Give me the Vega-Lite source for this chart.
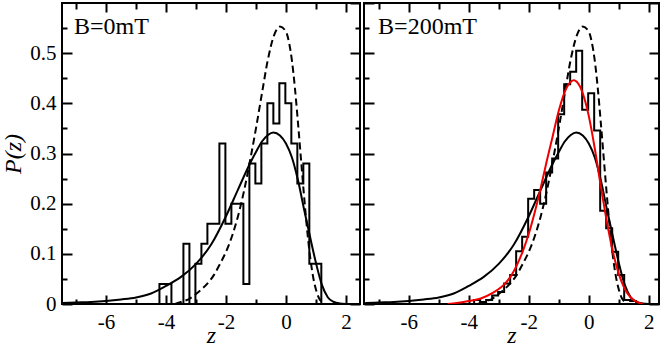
{
  "$schema": "https://vega.github.io/schema/vega-lite/v6.json",
  "padding": {"left": 0, "top": 1, "right": 0, "bottom": 0},
  "background": "white",
  "spacing": 0,
  "datasets": {
    "hist0": [
      {"z": -4.22, "p": 0}, {"z": -4.22, "p": 0.04}, {"z": -4.02, "p": 0.04}, {"z": -3.82, "p": 0}, {"z": -3.62, "p": 0},
      {"z": -3.42, "p": 0.12}, {"z": -3.22, "p": 0}, {"z": -3.02, "p": 0.08}, {"z": -2.82, "p": 0.12}, {"z": -2.62, "p": 0.16},
      {"z": -2.42, "p": 0.16}, {"z": -2.22, "p": 0.32}, {"z": -2.02, "p": 0.16}, {"z": -1.82, "p": 0.2}, {"z": -1.62, "p": 0.2},
      {"z": -1.42, "p": 0.04}, {"z": -1.22, "p": 0.28}, {"z": -1.02, "p": 0.24}, {"z": -0.82, "p": 0.32}, {"z": -0.62, "p": 0.4},
      {"z": -0.42, "p": 0.36}, {"z": -0.22, "p": 0.44}, {"z": -0.02, "p": 0.4}, {"z": 0.18, "p": 0.32}, {"z": 0.38, "p": 0.24},
      {"z": 0.58, "p": 0.28}, {"z": 0.78, "p": 0.08}, {"z": 0.98, "p": 0.08}, {"z": 1.18, "p": 0}
    ],
    "hist1": [
      {"z": -3.82, "p": 0}, {"z": -3.82, "p": 0.008}, {"z": -3.62, "p": 0.004}, {"z": -3.42, "p": 0.008}, {"z": -3.22, "p": 0.017},
      {"z": -3.02, "p": 0.024}, {"z": -2.82, "p": 0.041}, {"z": -2.62, "p": 0.058}, {"z": -2.42, "p": 0.105}, {"z": -2.22, "p": 0.134},
      {"z": -2.02, "p": 0.21}, {"z": -1.82, "p": 0.227}, {"z": -1.62, "p": 0.2}, {"z": -1.42, "p": 0.262}, {"z": -1.22, "p": 0.29},
      {"z": -1.02, "p": 0.378}, {"z": -0.82, "p": 0.438}, {"z": -0.62, "p": 0.463}, {"z": -0.42, "p": 0.505}, {"z": -0.22, "p": 0.387},
      {"z": -0.02, "p": 0.42}, {"z": 0.18, "p": 0.346}, {"z": 0.38, "p": 0.186}, {"z": 0.58, "p": 0.151}, {"z": 0.78, "p": 0.104},
      {"z": 0.98, "p": 0.058}, {"z": 1.18, "p": 0.008}, {"z": 1.38, "p": 0.006}, {"z": 1.58, "p": 0}
    ],
    "solid": [
      {"z": -7.45, "p": 0.002}, {"z": -7, "p": 0.003}, {"z": -6.5, "p": 0.004}, {"z": -6, "p": 0.006}, {"z": -5.5, "p": 0.009},
      {"z": -5, "p": 0.013}, {"z": -4.5, "p": 0.021}, {"z": -4, "p": 0.036}, {"z": -3.5, "p": 0.054}, {"z": -3, "p": 0.08},
      {"z": -2.5, "p": 0.118}, {"z": -2, "p": 0.175}, {"z": -1.6, "p": 0.228}, {"z": -1.2, "p": 0.28}, {"z": -1, "p": 0.303},
      {"z": -0.8, "p": 0.324}, {"z": -0.6, "p": 0.337}, {"z": -0.42, "p": 0.342}, {"z": -0.2, "p": 0.336}, {"z": 0, "p": 0.32},
      {"z": 0.2, "p": 0.292}, {"z": 0.4, "p": 0.247}, {"z": 0.6, "p": 0.19}, {"z": 0.8, "p": 0.135}, {"z": 1.0, "p": 0.082},
      {"z": 1.2, "p": 0.038}, {"z": 1.4, "p": 0.013}, {"z": 1.6, "p": 0.004}, {"z": 1.8, "p": 0.001}, {"z": 2.0, "p": 0}
    ],
    "dashed": [
      {"z": -3.7, "p": 0}, {"z": -3.5, "p": 0.004}, {"z": -3.2, "p": 0.011}, {"z": -3.0, "p": 0.02}, {"z": -2.8, "p": 0.03},
      {"z": -2.6, "p": 0.042}, {"z": -2.4, "p": 0.058}, {"z": -2.2, "p": 0.08}, {"z": -2.0, "p": 0.104}, {"z": -1.8, "p": 0.135},
      {"z": -1.6, "p": 0.175}, {"z": -1.4, "p": 0.225}, {"z": -1.2, "p": 0.285}, {"z": -1.0, "p": 0.35}, {"z": -0.8, "p": 0.42},
      {"z": -0.6, "p": 0.488}, {"z": -0.4, "p": 0.535}, {"z": -0.2, "p": 0.553}, {"z": 0.0, "p": 0.543}, {"z": 0.1, "p": 0.522},
      {"z": 0.2, "p": 0.485}, {"z": 0.3, "p": 0.43}, {"z": 0.4, "p": 0.362}, {"z": 0.5, "p": 0.29}, {"z": 0.6, "p": 0.218},
      {"z": 0.7, "p": 0.152}, {"z": 0.8, "p": 0.097}, {"z": 0.9, "p": 0.056}, {"z": 1.0, "p": 0.029}, {"z": 1.1, "p": 0.012},
      {"z": 1.2, "p": 0.004}, {"z": 1.3, "p": 0}
    ],
    "red": [
      {"z": -4.7, "p": 0}, {"z": -4.4, "p": 0.002}, {"z": -4.0, "p": 0.006}, {"z": -3.6, "p": 0.011}, {"z": -3.2, "p": 0.022},
      {"z": -2.8, "p": 0.04}, {"z": -2.6, "p": 0.055}, {"z": -2.4, "p": 0.077}, {"z": -2.2, "p": 0.105}, {"z": -2.0, "p": 0.14},
      {"z": -1.8, "p": 0.183}, {"z": -1.6, "p": 0.232}, {"z": -1.4, "p": 0.285}, {"z": -1.2, "p": 0.335}, {"z": -1.0, "p": 0.385},
      {"z": -0.8, "p": 0.423}, {"z": -0.6, "p": 0.443}, {"z": -0.5, "p": 0.446}, {"z": -0.4, "p": 0.443}, {"z": -0.2, "p": 0.42},
      {"z": 0.0, "p": 0.375}, {"z": 0.2, "p": 0.31}, {"z": 0.4, "p": 0.235}, {"z": 0.6, "p": 0.165}, {"z": 0.8, "p": 0.105},
      {"z": 1.0, "p": 0.06}, {"z": 1.2, "p": 0.03}, {"z": 1.4, "p": 0.013}, {"z": 1.6, "p": 0.004}, {"z": 1.8, "p": 0}
    ]
  },
  "hconcat": [
    {
      "width": 298,
      "height": 301,
      "layer": [
        {
          "data": {"name": "hist0"},
          "mark": {"type": "line", "interpolate": "step-after", "color": "black", "strokeWidth": 2, "clip": true},
          "encoding": {
            "x": {"field": "z", "type": "quantitative", "scale": {"domain": [-7.47, 2.47], "nice": false, "zero": false},
                  "axis": {"orient": "bottom", "values": [-6, -4, -2, 0, 2], "tickSize": -9, "labelPadding": 16, "labelExpr": "datum.value + ''", "title": "z", "titlePadding": -9}},
            "y": {"field": "p", "type": "quantitative", "scale": {"domain": [0, 0.6], "nice": false, "zero": false},
                  "axis": {"orient": "left", "values": [0, 0.1, 0.2, 0.3, 0.4, 0.5], "tickSize": -10, "labelPadding": 16, "labelExpr": "datum.value == 0 ? '0' : format(datum.value, '.1f')", "title": "P(z)", "titlePadding": 4}},
            "order": {"value": null}
          }
        },
        {
          "data": {"name": "solid"},
          "mark": {"type": "line", "interpolate": "monotone", "color": "black", "strokeWidth": 2, "clip": true},
          "encoding": {
            "x": {"field": "z", "type": "quantitative", "scale": {"domain": [-7.47, 2.47], "nice": false, "zero": false},
                  "axis": {"orient": "bottom", "values": [-7, -5, -3, -1, 1], "tickSize": -5, "labels": false, "title": null}},
            "y": {"field": "p", "type": "quantitative", "scale": {"domain": [0, 0.6], "nice": false, "zero": false},
                  "axis": {"orient": "left", "values": [0.05, 0.15, 0.25, 0.35, 0.45, 0.55], "tickSize": -5, "labels": false, "title": null}}
          }
        },
        {
          "data": {"name": "dashed"},
          "mark": {"type": "line", "interpolate": "monotone", "color": "black", "strokeWidth": 2, "strokeDash": [7, 4], "clip": true},
          "encoding": {
            "x": {"field": "z", "type": "quantitative", "scale": {"domain": [-7.47, 2.47], "nice": false, "zero": false},
                  "axis": {"orient": "top", "values": [-6, -4, -2, 0, 2], "tickSize": -9, "labels": false, "title": null}},
            "y": {"field": "p", "type": "quantitative", "scale": {"domain": [0, 0.6], "nice": false, "zero": false},
                  "axis": {"orient": "right", "values": [0, 0.1, 0.2, 0.3, 0.4, 0.5, 0.6], "tickSize": -10, "labels": false, "title": null}}
          }
        },
        {
          "data": {"values": [{"label": "B=0mT"}]},
          "mark": {"type": "text", "align": "left", "baseline": "alphabetic", "font": "Times New Roman, Liberation Serif, serif", "fontSize": 24, "color": "black"},
          "encoding": {
            "text": {"field": "label"},
            "x": {"datum": -7.07, "type": "quantitative", "scale": {"domain": [-7.47, 2.47], "nice": false, "zero": false},
                  "axis": {"orient": "top", "values": [-7, -5, -3, -1, 1], "tickSize": -6, "labels": false, "title": null}},
            "y": {"datum": 0.539, "type": "quantitative", "scale": {"domain": [0, 0.6], "nice": false, "zero": false},
                  "axis": {"orient": "right", "values": [0.05, 0.15, 0.25, 0.35, 0.45, 0.55], "tickSize": -5, "labels": false, "title": null}}
          }
        }
      ],
      "resolve": {"axis": {"x": "independent", "y": "independent"}}
    },
    {
      "width": 295,
      "height": 301,
      "layer": [
        {
          "data": {"name": "hist1"},
          "mark": {"type": "line", "interpolate": "step-after", "color": "black", "strokeWidth": 2, "clip": true},
          "encoding": {
            "x": {"field": "z", "type": "quantitative", "scale": {"domain": [-7.49, 2.34], "nice": false, "zero": false},
                  "axis": {"orient": "bottom", "values": [-6, -4, -2, 0, 2], "tickSize": -9, "labelPadding": 16, "labelExpr": "datum.value + ''", "title": "z", "titlePadding": -9}},
            "y": {"field": "p", "type": "quantitative", "scale": {"domain": [0, 0.6], "nice": false, "zero": false},
                  "axis": {"orient": "left", "values": [0, 0.1, 0.2, 0.3, 0.4, 0.5, 0.6], "tickSize": -10, "labels": false, "title": null}},
            "order": {"value": null}
          }
        },
        {
          "data": {"name": "solid"},
          "mark": {"type": "line", "interpolate": "monotone", "color": "black", "strokeWidth": 2, "clip": true},
          "encoding": {
            "x": {"field": "z", "type": "quantitative", "scale": {"domain": [-7.49, 2.34], "nice": false, "zero": false},
                  "axis": {"orient": "bottom", "values": [-7, -5, -3, -1, 1], "tickSize": -5, "labels": false, "title": null}},
            "y": {"field": "p", "type": "quantitative", "scale": {"domain": [0, 0.6], "nice": false, "zero": false},
                  "axis": {"orient": "left", "values": [0.05, 0.15, 0.25, 0.35, 0.45, 0.55], "tickSize": -5, "labels": false, "title": null}}
          }
        },
        {
          "data": {"name": "dashed"},
          "mark": {"type": "line", "interpolate": "monotone", "color": "black", "strokeWidth": 2, "strokeDash": [7, 4], "clip": true},
          "encoding": {
            "x": {"field": "z", "type": "quantitative", "scale": {"domain": [-7.49, 2.34], "nice": false, "zero": false},
                  "axis": {"orient": "top", "values": [-6, -4, -2, 0, 2], "tickSize": -9, "labels": false, "title": null}},
            "y": {"field": "p", "type": "quantitative", "scale": {"domain": [0, 0.6], "nice": false, "zero": false},
                  "axis": {"orient": "right", "values": [0, 0.1, 0.2, 0.3, 0.4, 0.5, 0.6], "tickSize": -10, "labels": false, "title": null}}
          }
        },
        {
          "data": {"name": "red"},
          "mark": {"type": "line", "interpolate": "monotone", "color": "#ee0000", "strokeWidth": 2, "clip": true},
          "encoding": {
            "x": {"field": "z", "type": "quantitative", "scale": {"domain": [-7.49, 2.34], "nice": false, "zero": false}, "axis": null},
            "y": {"field": "p", "type": "quantitative", "scale": {"domain": [0, 0.6], "nice": false, "zero": false}, "axis": null}
          }
        },
        {
          "data": {"values": [{"label": "B=200mT"}]},
          "mark": {"type": "text", "align": "left", "baseline": "alphabetic", "font": "Times New Roman, Liberation Serif, serif", "fontSize": 24, "color": "black"},
          "encoding": {
            "text": {"field": "label"},
            "x": {"datum": -7.02, "type": "quantitative", "scale": {"domain": [-7.49, 2.34], "nice": false, "zero": false},
                  "axis": {"orient": "top", "values": [-7, -5, -3, -1, 1], "tickSize": -6, "labels": false, "title": null}},
            "y": {"datum": 0.539, "type": "quantitative", "scale": {"domain": [0, 0.6], "nice": false, "zero": false},
                  "axis": {"orient": "right", "values": [0.05, 0.15, 0.25, 0.35, 0.45, 0.55], "tickSize": -5, "labels": false, "title": null}}
          }
        }
      ],
      "resolve": {"axis": {"x": "independent", "y": "independent"}}
    }
  ],
  "config": {
    "view": {"stroke": "black", "strokeWidth": 2},
    "axis": {
      "grid": false, "domain": false, "tickColor": "black", "tickWidth": 2,
      "labelColor": "black", "labelFont": "Times New Roman, Liberation Serif, serif", "labelFontSize": 21, "labelFlush": false, "labelOverlap": false,
      "titleFont": "Times New Roman, Liberation Serif, serif", "titleFontSize": 24, "titleFontStyle": "italic", "titleFontWeight": "normal", "titleColor": "black"
    }
  }
}
